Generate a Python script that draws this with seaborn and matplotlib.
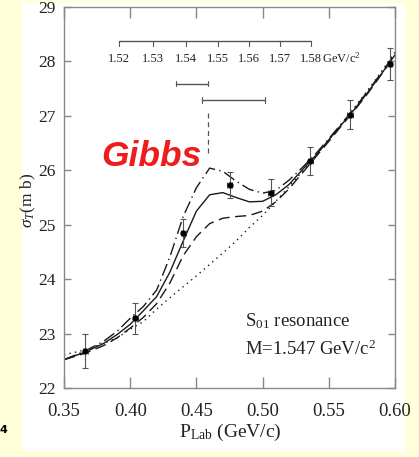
import numpy as np
import pandas as pd
import matplotlib
matplotlib.use("Agg")
import matplotlib.pyplot as plt
import seaborn as sns
from matplotlib.patches import Rectangle

# K+ N total cross section around the S01 resonance
p_grid = [0.35, 0.366, 0.38, 0.39, 0.40, 0.41, 0.42, 0.43, 0.44, 0.45, 0.46, 0.47, 0.48,
          0.49, 0.50, 0.51, 0.52, 0.53, 0.54, 0.55, 0.56, 0.57, 0.58, 0.59, 0.60]
sigma_solid = [22.52, 22.66, 22.82, 22.98, 23.17, 23.42, 23.68, 24.13, 24.70, 25.25, 25.55, 25.59, 25.50,
               25.42, 25.43, 25.55, 25.74, 26.01, 26.27, 26.56, 26.85, 27.14, 27.45, 27.78, 28.12]
sigma_dashed = [22.52, 22.64, 22.78, 22.92, 23.10, 23.30, 23.55, 23.93, 24.43, 24.78, 25.02, 25.12, 25.15,
                25.17, 25.25, 25.42, 25.66, 25.95, 26.24, 26.53, 26.83, 27.12, 27.43, 27.77, 28.11]
sigma_dashdot = [22.52, 22.68, 22.86, 23.04, 23.28, 23.50, 23.80, 24.41, 25.15, 25.68, 26.04, 25.98, 25.80,
                 25.65, 25.58, 25.63, 25.82, 26.05, 26.30, 26.58, 26.87, 27.16, 27.47, 27.80, 28.14]
sigma_background = [22.61, 22.70, 22.82, 22.92, 23.08, 23.22, 23.45, 23.66, 23.86, 24.06, 24.27, 24.48, 24.70,
                    24.95, 25.17, 25.43, 25.70, 25.98, 26.26, 26.56, 26.86, 27.17, 27.49, 27.82, 28.17]

p_data = [0.366, 0.404, 0.440, 0.475, 0.506, 0.536, 0.566, 0.596]
sigma_data = [22.68, 23.28, 24.85, 25.73, 25.59, 26.17, 27.02, 27.95]
sigma_err = [0.32, 0.28, 0.26, 0.24, 0.25, 0.25, 0.27, 0.30]

mass_ticks = [1.52, 1.53, 1.54, 1.55, 1.56, 1.57, 1.58]
mass_bar_lo = [1.537, 1.545]
mass_bar_hi = [1.547, 1.565]
resonance_mass = 1.547

x_ticks = [0.35, 0.40, 0.45, 0.50, 0.55, 0.60]
y_ticks = [22, 23, 24, 25, 26, 27, 28, 29]

M_K, M_N = 0.4937, 0.9396


def mass_to_plab(w):
    """Kaon lab momentum for a K N invariant mass w (GeV)."""
    w = np.asarray(w, dtype=float)
    e_k = (w ** 2 - M_K ** 2 - M_N ** 2) / (2 * M_N)
    return np.sqrt(e_k ** 2 - M_K ** 2)


sns.set_theme(style="ticks")
plt.rcParams["font.family"] = ["Liberation Serif", "DejaVu Serif"]
plt.rcParams["mathtext.fontset"] = "custom"
plt.rcParams["mathtext.rm"] = "Liberation Serif"
plt.rcParams["mathtext.it"] = "Liberation Serif:italic"
plt.rcParams["mathtext.bf"] = "Liberation Serif:bold"

fig = plt.figure(figsize=(4.19, 4.57), dpi=100, facecolor="#FFFFDA")
fig.patches.append(Rectangle((22 / 419, 6 / 457), 383 / 419, 448 / 457,
                             transform=fig.transFigure, facecolor="white",
                             edgecolor="none", zorder=-10))
ax = fig.add_axes([64 / 419, 69 / 457, 331 / 419, 381 / 457])
ax.set_zorder(2)
ax.set_facecolor("white")

frame = pd.DataFrame({
    "P": p_grid * 4,
    "sigma": sigma_background + sigma_dashed + sigma_dashdot + sigma_solid,
    "model": (["background"] * len(p_grid) + ["dashed"] * len(p_grid)
              + ["dashdot"] * len(p_grid) + ["solid"] * len(p_grid)),
})
dash_styles = {"background": (1, 3), "dashed": (8, 4), "dashdot": (9, 3, 1, 3), "solid": ""}
sns.lineplot(data=frame, x="P", y="sigma", style="model", dashes=dash_styles,
             color="#1a1a1a", linewidth=1.0, sort=False, legend=False,
             estimator=None, ax=ax)

ax.errorbar(p_data, sigma_data, yerr=sigma_err, xerr=0.002, fmt="o", color="black",
            ms=3.5, ecolor="#555555", elinewidth=0.8, capsize=2.2, capthick=0.8, zorder=5)

# invariant-mass scale
scale_y = 28.37
mp = mass_to_plab(mass_ticks)
ax.plot([mp[0], mp[-1]], [scale_y, scale_y], color="#555555", lw=1.0)
for m, p in zip(mass_ticks, mp):
    ax.plot([p, p], [scale_y, scale_y - 0.08], color="#555555", lw=0.8)
    ax.text(p, 28.05, f"{m:.2f}", ha="center", va="center", fontsize=9, color="#222222")
ax.text(mp[-1] + 0.0085, 28.05, r"GeV/c$^2$", ha="left", va="center", fontsize=9,
        color="#222222")

for lo, hi, y in zip(mass_bar_lo, mass_bar_hi, [27.59, 27.29]):
    pl, ph = mass_to_plab([lo, hi])
    ax.plot([pl, ph], [y, y], color="#555555", lw=1.0)
    ax.plot([pl, pl], [y - 0.05, y + 0.05], color="#555555", lw=0.8)
    ax.plot([ph, ph], [y - 0.05, y + 0.05], color="#555555", lw=0.8)

pr = float(mass_to_plab(resonance_mass))
ax.plot([pr, pr], [27.05, 26.32], color="#555555", lw=0.9, dashes=(4, 3))

ax.text(0.3785, 26.08, "Gibbs", color="#EE1C1C", fontsize=25.5, fontweight="bold",
        fontstyle="italic", family=["Liberation Sans", "DejaVu Sans"], ha="left",
        va="baseline")

ax.text(0.4865, 22 + (388 - 326.7) / 54.4, r"S$_{01}$ resonance", fontsize=13.5,
        ha="left", va="baseline", color="#222222")
ax.text(0.4865, 22 + (388 - 355) / 54.4, r"M=1.547 GeV/c$^2$", fontsize=13.5,
        ha="left", va="baseline", color="#222222")

ax.set_xlim(0.35, 0.60)
ax.set_ylim(22, 29)
ax.set_xticks(x_ticks)
ax.set_xticklabels([f"{v:.2f}" for v in x_ticks])
ax.set_yticks(y_ticks)
ax.set_yticklabels([str(v) for v in y_ticks])
ax.tick_params(axis="x", direction="in", length=8, width=1, color="#888888",
               top=True, bottom=True, labelsize=13.5, pad=11, labelcolor="#222222")
ax.tick_params(axis="y", direction="in", length=5, width=1, color="#888888",
               left=True, right=True, labelsize=12.5, pad=6, labelcolor="#222222")
for s in ax.spines.values():
    s.set_color("#888888")
    s.set_linewidth(1.0)
ax.set_xlabel("")
ax.set_ylabel("")

fig.text(230 / 419, 1 - 432 / 457, r"P$_{\rm Lab}$ (GeV/c)", ha="center", va="center",
         fontsize=14, color="#222222")
fig.text(28 / 419, 1 - 200 / 457, r"$\sigma_T$(m b)", ha="center", va="center",
         rotation=90, fontsize=12.5, color="#222222")
fig.text(0.0, 1 - 430 / 457, "4", ha="left", va="center", fontsize=8,
         fontweight="bold", family=["DejaVu Sans"], color="black")

fig.savefig("out.png", dpi=100, facecolor=fig.get_facecolor())
